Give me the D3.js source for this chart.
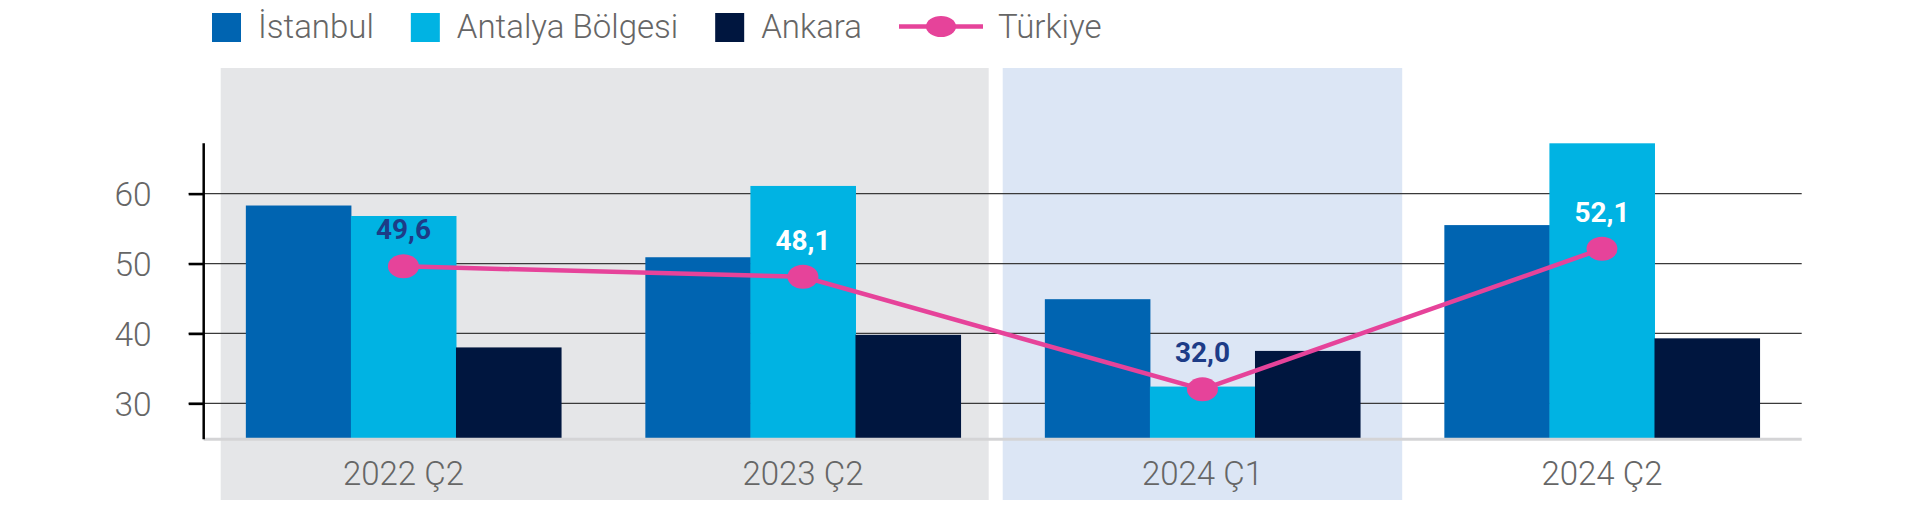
<!DOCTYPE html>
<html><head><meta charset="utf-8">
<script src="https://cdn.jsdelivr.net/npm/d3@7"></script>
<style>
html,body{margin:0;padding:0;background:#fff;}
svg{display:block;font-family:Roboto,"Noto Sans",sans-serif;}
</style></head>
<body>
<svg id="chart" width="1906" height="521"></svg>
<script>
const categories = ["2022 Ç2", "2023 Ç2", "2024 Ç1", "2024 Ç2"];
const seriesNames = ["İstanbul", "Antalya Bölgesi", "Ankara"];
const istanbul = [58.3, 50.9, 44.9, 55.5];
const antalya = [56.8, 61.1, 32.4, 67.2];
const ankara = [38.0, 39.8, 37.5, 39.3];
const turkiye = [49.6, 48.1, 32.0, 52.1];
const turkiyeLabels = ["49,6", "48,1", "32,0", "52,1"];
const lineName = "Türkiye";
const yTicks = [30, 40, 50, 60];
const yDomain = [25, 67.2];

(function () {
const colors = ["#0064b1", "#00b3e3", "#00163f"];
const pink = "#e6439a";
const labelColors = ["#1d3c87", "#ffffff", "#1d3c87", "#ffffff"];

const svg = d3.select("#chart");
const pLeft = 203.7, pRight = 1801.7, pTop = 143.3, pBottom = 438.3;

const x = d3.scaleBand().domain(categories).range([pLeft, pRight]).paddingInner(0.211).paddingOuter(0.1055);
const xs = d3.scaleBand().domain(seriesNames).range([0, x.bandwidth()]);
const y = d3.scaleLinear().domain(yDomain).range([pBottom, pTop]);
const step = x.step();
const slotStart = c => x(c) - x.paddingOuter() * step;

// background bands
svg.append("rect").attr("x", slotStart(categories[0]) + 17).attr("y", 68)
  .attr("width", 2 * step - 31).attr("height", 432).attr("fill", "#e5e6e8");
svg.append("rect").attr("x", slotStart(categories[2])).attr("y", 68)
  .attr("width", step).attr("height", 432).attr("fill", "#dce6f5");

// gridlines
svg.append("g").selectAll("line").data(yTicks).join("line")
  .attr("x1", pLeft - 15).attr("x2", pRight).attr("y1", d => y(d)).attr("y2", d => y(d))
  .attr("stroke", "#3a3a3a").attr("stroke-width", 1.3);

// bars
const data = categories.map((c, i) => ({c, vals: [istanbul[i], antalya[i], ankara[i]]}));
const g = svg.append("g").selectAll("g").data(data).join("g")
  .attr("transform", d => `translate(${x(d.c)},0)`);
g.selectAll("rect").data(d => d.vals.map((v, k) => ({v, k}))).join("rect")
  .attr("x", d => xs(seriesNames[d.k])).attr("width", xs.bandwidth() + 0.5)
  .attr("y", d => y(d.v)).attr("height", d => y(yDomain[0]) - y(d.v))
  .attr("fill", d => colors[d.k]);

// baseline
svg.append("line").attr("x1", pLeft).attr("x2", pRight).attr("y1", pBottom + 1).attr("y2", pBottom + 1)
  .attr("stroke", "#d4d4d6").attr("stroke-width", 3);

// y axis
const yAxis = d3.axisLeft(y).tickValues(yTicks).tickSize(15).tickPadding(37);
const ya = svg.append("g").attr("transform", `translate(${pLeft},0)`).call(yAxis);
ya.select(".domain").remove();
ya.selectAll(".tick line").attr("stroke", "#000").attr("stroke-width", 2.6);
ya.selectAll(".tick text").attr("font-size", 33.5).attr("font-weight", 300)
  .attr("fill", "#666666").attr("font-family", "Roboto").attr("dy", "0.36em");
svg.append("line").attr("x1", pLeft).attr("x2", pLeft).attr("y1", pTop).attr("y2", pBottom + 1)
  .attr("stroke", "#000").attr("stroke-width", 2.5);

// x axis labels
const xAxis = d3.axisBottom(x).tickSize(0).tickPadding(0);
const xa = svg.append("g").attr("transform", `translate(0,${pBottom})`).call(xAxis);
xa.select(".domain").remove();
xa.selectAll(".tick text").attr("font-size", 33).attr("font-weight", 300)
  .attr("fill", "#666666").attr("font-family", "Roboto").attr("y", 46.5).attr("dy", 0);

// line
const cx = c => x(c) + x.bandwidth() / 2;
const line = d3.line().x((d, i) => cx(categories[i])).y(d => y(d));
svg.append("path").datum(turkiye).attr("d", line).attr("fill", "none")
  .attr("stroke", pink).attr("stroke-width", 4.5);
svg.append("g").selectAll("ellipse").data(turkiye).join("ellipse")
  .attr("cx", (d, i) => cx(categories[i])).attr("cy", d => y(d))
  .attr("rx", 15.5).attr("ry", 12).attr("fill", pink);
svg.append("g").selectAll("text").data(turkiye).join("text")
  .attr("x", (d, i) => cx(categories[i])).attr("y", d => y(d) - 27)
  .attr("text-anchor", "middle").attr("font-size", 28).attr("font-weight", 700)
  .attr("font-family", "Roboto").attr("fill", (d, i) => labelColors[i])
  .text((d, i) => turkiyeLabels[i]);

// legend
const leg = svg.append("g");
let lx = 212;
const ly = 27.5;
seriesNames.forEach((n, k) => {
  leg.append("rect").attr("x", lx).attr("y", ly - 14.5).attr("width", 29).attr("height", 29).attr("fill", colors[k]);
  const t = leg.append("text").attr("x", lx + 46).attr("y", 37.5).attr("font-size", 33)
    .attr("font-weight", 300).attr("fill", "#666666").attr("font-family", "Roboto").text(n);
  lx = lx + 46 + t.node().getComputedTextLength() + 37;
});
leg.append("line").attr("x1", lx).attr("x2", lx + 84).attr("y1", ly - 1).attr("y2", ly - 1)
  .attr("stroke", pink).attr("stroke-width", 4.5);
leg.append("ellipse").attr("cx", lx + 42).attr("cy", ly - 1).attr("rx", 15).attr("ry", 10.5).attr("fill", pink);
leg.append("text").attr("x", lx + 99).attr("y", 37.5).attr("font-size", 33)
  .attr("font-weight", 300).attr("fill", "#666666").attr("font-family", "Roboto").text(lineName);
})();
</script>
</body></html>
